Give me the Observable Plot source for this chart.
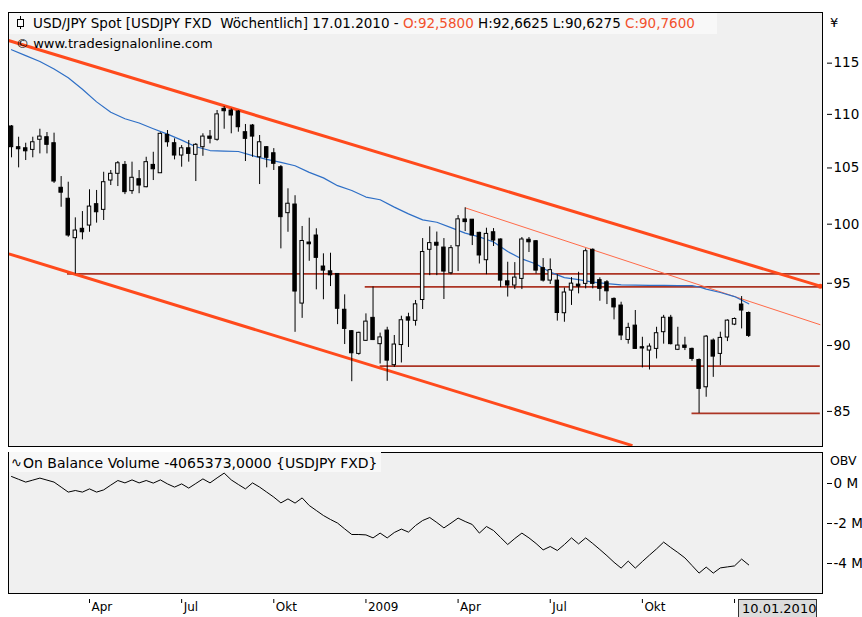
<!DOCTYPE html>
<html><head><meta charset="utf-8">
<script src="https://cdn.jsdelivr.net/npm/d3@7"></script>
<script src="https://cdn.jsdelivr.net/npm/@observablehq/plot@0.6"></script>
<style>
html,body{margin:0;padding:0;background:#fff;}
#wrap{position:relative;width:862px;height:617px;overflow:hidden;font-family:"DejaVu Sans",Verdana,sans-serif;color:#000;}
#main{position:absolute;left:0;top:0;}
#obv{position:absolute;left:0;top:449px;}
.t{position:absolute;white-space:pre;line-height:1;}
.box{position:absolute;}
</style></head><body>
<div id="wrap">
  <div id="main"></div>
  <div id="obv"></div>
  <div class="box" style="left:9px;top:13px;width:708px;height:21px;background:#f8f8f8;"></div>
  <div class="box" style="left:20px;top:16px;width:1px;height:13px;background:#000;"></div>
  <div class="box" style="left:17px;top:19px;width:5px;height:6px;border:1px solid #000;background:#f8f8f8;"></div>
  <div class="t" style="left:33px;top:17px;font-size:13.5px;">USD/JPY Spot [USDJPY FXD  Wöchentlich] 17.01.2010 - <span style="color:#f2502c">O:92,5800</span> H:92,6625 L:90,6275 <span style="color:#f2502c">C:90,7600</span></div>
  <div class="t" style="left:16px;top:37px;font-size:13px;">© www.tradesignalonline.com</div>
  <div class="t" style="left:830px;top:16px;font-size:13px;">¥</div>
  <div class="box" style="left:9px;top:452px;width:372px;height:20px;background:#f8f8f8;"></div>
  <div class="t" style="left:11px;top:456px;font-size:13px;">∿</div>
  <div class="t" style="left:23px;top:456px;font-size:14px;">On Balance Volume -4065373,0000 {USDJPY FXD}</div>
  <div class="t" style="left:830px;top:455px;font-size:12.5px;">OBV</div>
  <div class="box" style="left:738px;top:599px;width:79px;height:20px;background:#dcdcdc;border:1px solid #333;box-sizing:border-box;"></div>
  <div class="t" style="left:742px;top:602px;font-size:13px;">10.01.2010</div>
</div>
<script>
// ---------- data (weekly bars, USD/JPY, first bar = Fri 18.01.2008) ----------
const firstBar = Date.UTC(2008, 0, 18);
const open  = [108.85,106.91,106.81,106.66,107.60,107.84,107.28,103.21,102.23,98.79,99.60,99.88,101.75,101.25,103.86,104.47,105.28,102.91,103.98,103.26,105.28,104.52,108.06,107.28,106.14,106.81,106.20,106.91,107.90,107.60,110.53,110.37,110.27,108.31,108.94,105.98,106.91,106.35,105.07,100.96,101.72,93.34,98.42,99.02,96.39,95.99,95.77,92.84,91.13,89.35,90.37,92.19,90.11,91.18,88.48,90.04,92.23,91.95,93.63,97.80,98.40,97.99,95.83,98.10,100.41,100.39,99.25,96.92,99.30,98.68,95.16,94.81,95.36,98.66,98.53,96.26,95.22,95.22,92.56,94.40,94.89,94.95,97.80,95.26,95.08,93.72,93.18,90.44,91.57,89.87,89.61,89.74,91.05,92.20,89.67,90.00,89.74,88.88,86.80,90.39,89.35,90.63,91.65,93.26,92.58];
const high  = [108.94,107.84,107.28,107.84,108.59,108.28,108.22,104.22,103.71,100.55,101.10,103.03,102.97,104.61,104.77,105.59,105.59,105.53,104.77,105.98,106.44,108.25,108.47,107.69,107.06,107.53,107.25,108.16,108.47,110.37,110.75,110.53,110.37,109.04,109.04,108.00,106.97,106.78,105.22,103.12,102.50,99.80,100.52,99.60,97.46,97.51,95.77,94.05,91.18,91.05,92.51,94.70,90.98,91.44,90.79,92.32,92.56,93.59,98.76,99.77,99.32,98.76,98.16,100.75,101.43,100.41,99.30,99.65,99.62,98.73,96.75,96.72,98.85,98.85,98.59,97.06,97.03,95.71,94.61,95.47,95.91,97.88,97.88,95.45,95.22,93.80,93.45,91.76,92.78,90.65,90.13,91.44,92.39,92.39,91.44,90.65,89.80,88.96,90.79,90.52,91.05,92.03,92.18,93.91,92.66];
const low   = [105.93,105.01,105.68,105.93,106.29,106.29,103.60,101.48,98.87,95.77,98.65,99.30,100.09,100.32,103.41,103.32,102.60,102.62,102.68,103.21,103.86,104.52,106.91,105.74,105.07,105.53,103.77,106.07,107.22,107.47,108.59,108.16,108.31,105.59,105.98,103.50,105.01,104.77,97.88,99.30,91.04,92.15,96.83,94.46,93.65,94.73,91.65,90.08,87.22,89.25,90.33,90.39,88.57,87.25,88.31,88.65,89.85,91.53,92.86,95.63,95.63,93.67,95.70,95.97,99.36,98.16,96.60,95.71,98.08,94.65,93.87,94.48,94.48,97.57,95.77,95.10,94.90,91.93,91.84,93.19,94.13,94.54,94.54,93.53,93.26,92.03,90.39,90.11,89.70,88.27,88.11,88.96,90.11,90.05,89.61,89.61,88.78,84.85,86.05,87.55,88.44,90.31,91.57,91.31,90.63];
const close = [106.91,106.72,106.53,107.37,107.90,107.13,103.77,102.77,99.02,99.45,99.30,101.54,101.04,103.71,104.47,105.43,102.82,104.11,103.41,105.53,104.88,108.16,107.37,106.14,106.81,106.29,107.13,107.90,107.69,110.00,110.30,109.89,108.78,107.69,107.90,107.37,105.93,105.38,100.61,101.79,94.32,98.55,98.27,97.12,96.05,95.66,92.92,91.31,89.40,91.00,91.89,90.43,90.64,88.83,90.08,92.00,91.97,93.28,97.61,98.37,98.15,95.97,97.94,100.42,100.18,99.02,97.32,99.16,98.59,95.22,94.81,95.47,98.68,98.44,96.05,95.22,96.09,92.58,94.24,94.97,94.73,97.68,94.95,94.54,94.34,93.03,90.79,91.39,89.74,89.77,89.92,90.97,92.20,90.11,90.00,89.82,88.96,86.68,90.70,89.14,90.60,91.97,92.10,92.78,90.76];
// moving average read at these bar numbers
const maBar   = [0,2,4,6,8,10,12,14,16,18,20,22,24,26,28,30,32,34,36,38,40,42,44,46,48,50,52,54,56,58,60,62,64,66,68,70,72,74,76,78,80,82,84,86,88,90,92,94,96,97,98,100,102,104];
const maValue = [116.35,115.75,115.17,114.42,113.55,112.43,111.2,110.2,109.58,109.18,108.64,108.13,107.57,106.95,106.6,106.55,106.51,106.13,105.79,105.51,105.2,104.6,104.1,103.4,102.97,102.38,102.14,101.49,100.9,100.37,100.17,99.7,99.23,98.9,98.46,97.65,97.03,96.6,95.92,95.47,95.3,95.1,94.97,94.87,94.85,94.83,94.82,94.81,94.81,94.69,94.52,94.24,93.91,93.32];
// On Balance Volume, millions
const obvM = [0.35,0.21,0.07,0.17,0.27,0.17,0.07,-0.18,-0.43,-0.35,-0.43,-0.27,-0.43,-0.32,-0.08,0.15,0.03,0.18,0.03,0.15,0.02,0.18,-0.02,-0.18,-0.02,-0.23,0.0,0.23,0.03,0.28,0.52,0.18,-0.05,-0.27,0.03,-0.18,-0.43,-0.68,-0.97,-0.77,-0.98,-0.72,-1.1,-1.35,-1.6,-1.8,-1.98,-2.27,-2.55,-2.55,-2.57,-2.72,-2.48,-2.72,-2.45,-2.28,-2.43,-2.1,-1.85,-1.7,-1.95,-2.22,-1.98,-1.73,-1.9,-2.05,-2.48,-2.15,-2.35,-2.7,-3.05,-2.75,-2.48,-2.72,-3.0,-3.32,-3.15,-3.35,-3.05,-2.72,-3.02,-2.72,-3.0,-3.3,-3.61,-3.94,-4.23,-3.88,-4.23,-3.9,-3.58,-3.27,-2.93,-3.2,-3.45,-3.72,-4.1,-4.48,-4.18,-4.48,-4.22,-4.17,-4.12,-3.78,-4.07];
// drawn lines (bar numbers and prices of their ends)
const trendName  = ["upper channel","lower channel","resistance"];
const trendFrom  = [-0.43, -0.385, 64];
const trendFromP = [117.28, 97.46, 101.43];
const trendTo    = [114.1, 87.6, 114.1];
const trendToP   = [94.76, 82.51, 91.64];
const levelPrice = [95.77, 94.70, 88.41, 84.85];
const levelFrom  = [7.9, 49.9, 52.0, 96.0];
const levelTo    = 114.1;
const yTicks   = [85, 90, 95, 100, 105, 110, 115];
const obvTicks = [0, -2, -4];
const xTickBar   = [11, 24, 37, 50, 63, 76, 89, 102];
const xTickLabel = ["Apr", "Jul", "Okt", "2009", "Apr", "Jul", "Okt", ""];

// ---------- build ----------
const WEEK = 7 * 864e5;
const bd = i => new Date(firstBar + i * WEEK);
const half = 1.7 * 864e5;
const bars = open.map((o, i) => ({date: bd(i), open: o, high: high[i], low: low[i], close: close[i], obv: obvM[i]}));
const ma = maBar.map((b, i) => ({date: bd(b), v: maValue[i]}));
const trends = trendName.map((n, i) => ({n, x1: bd(trendFrom[i]), y1: trendFromP[i], x2: bd(trendTo[i]), y2: trendToP[i]}));
const levels = levelPrice.map((p, i) => ({p, x1: bd(levelFrom[i]), x2: bd(levelTo)}));
const xDomain = [bd(-0.4275), bd(114.41)];
const xTicks = xTickBar.map(bd);
const labelMap = new Map(xTicks.map((d, i) => [+d, xTickLabel[i]]));
const font = '"DejaVu Sans", Verdana, sans-serif';

const main = Plot.plot({
  width: 862, height: 449,
  marginTop: 12, marginBottom: 3, marginLeft: 8, marginRight: 40,
  style: {background: "#fff", fontFamily: font, fontSize: "13.5px", color: "#000"},
  x: {type: "utc", domain: xDomain, axis: null},
  y: {type: "log", domain: [82.45, 120.17], axis: null},
  marks: [
    Plot.frame({fill: "#f0f0f0", stroke: null}),
    Plot.ruleY(levels, {y: "p", x1: "x1", x2: "x2", stroke: "#ac3524", strokeWidth: 1.8}),
    Plot.link(trends.slice(0, 2), {x1: "x1", y1: "y1", x2: "x2", y2: "y2", stroke: "#ff4a1c", strokeWidth: 3}),
    Plot.link(trends.slice(2), {x1: "x1", y1: "y1", x2: "x2", y2: "y2", stroke: "#ff6a48", strokeWidth: 1}),
    Plot.dot(trends.slice(0, 1), {x: "x2", y: "y2", r: 2.5, fill: "#ff4a1c", stroke: null}),
    Plot.line(ma, {x: "date", y: "v", stroke: "#2e6fc6", strokeWidth: 1.2}),
    Plot.ruleX(bars, {x: "date", y1: "low", y2: "high", stroke: "#000", strokeWidth: 1}),
    Plot.rect(bars, {
      x1: d => new Date(+d.date - half), x2: d => new Date(+d.date + half),
      y1: "open", y2: "close",
      fill: d => d.close >= d.open ? "#f6f6f6" : "#000", stroke: "#000", strokeWidth: 1
    }),
    Plot.frame({stroke: "#000"}),
    Plot.axisY(yTicks, {anchor: "right", tickSize: 5, tickPadding: 2, dx: 4, tickFormat: d => String(d), label: null, fontSize: 13.5})
  ]
});
document.getElementById("main").appendChild(main);

const obv = Plot.plot({
  width: 862, height: 168,
  marginTop: 3, marginBottom: 24, marginLeft: 8, marginRight: 40,
  style: {background: "#fff", fontFamily: font, fontSize: "13px", color: "#000"},
  x: {type: "utc", domain: xDomain, axis: null},
  y: {domain: [-5.5, 1.55], axis: null},
  marks: [
    Plot.frame({fill: "#f0f0f0", stroke: null}),
    Plot.line(bars, {x: "date", y: "obv", stroke: "#000", strokeWidth: 1}),
    Plot.frame({stroke: "#000"}),
    Plot.axisY(obvTicks, {anchor: "right", tickSize: 5, tickPadding: 2, dx: 4, tickFormat: d => `${d} M`, label: null, fontSize: 13.5}),
    Plot.axisX(xTicks, {anchor: "bottom", tickSize: 4, dy: 6, tickFormat: () => "", label: null}),
    Plot.axisX(xTicks, {anchor: "bottom", tickSize: 0, tickPadding: 9, dx: 2, textAnchor: "start", tickFormat: d => labelMap.get(+d), label: null, fontSize: 12})
  ]
});
document.getElementById("obv").appendChild(obv);
</script>
</body></html>
